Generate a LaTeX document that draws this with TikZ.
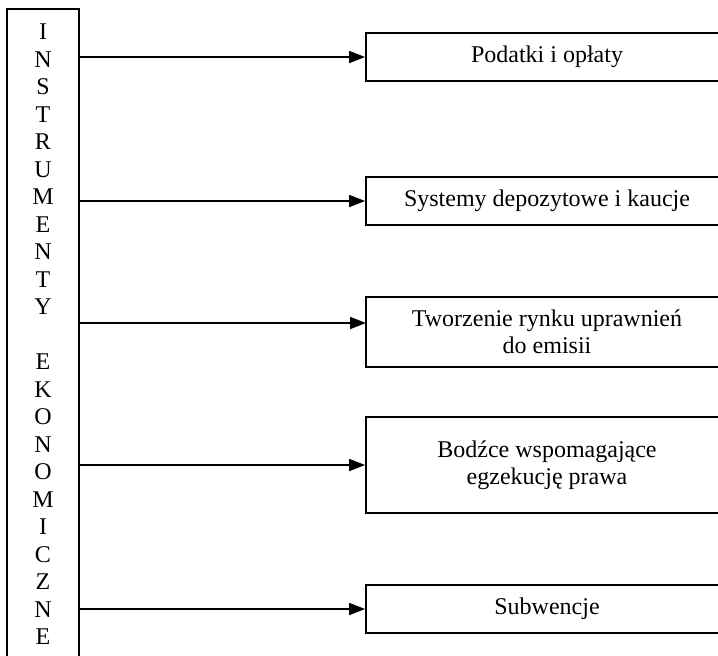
\documentclass[tikz,border=0pt]{standalone}
\usepackage{fontspec}
\setmainfont{Liberation Serif}
\usetikzlibrary{arrows.meta}
\tikzstyle{arrow} = [-{Triangle[length=8pt,width=6pt]}]
\tikzstyle{box} = [draw, rectangle, minimum width=181pt, inner sep=0pt, align=center]

\begin{document}
\begin{tikzpicture}[x=0.5pt,y=-0.5pt,line width=0.9pt]
        \fontsize{12pt}{13.75pt}\selectfont
        \useasboundingbox (0,0) rectangle (718,655);
        \node[draw, minimum width=36pt, minimum height=345.5pt, inner sep=0pt] at (43,354.5) (instr) {};
        \node[align=center, inner sep=0pt] at (43,334.5) (name) {I\\N\\S\\T\\R\\U\\M\\E\\N\\T\\Y\\[13.75pt]E\\K\\O\\N\\O\\M\\I\\C\\Z\\N\\E};

        \node[box, minimum height=24pt] at (547,57) (tax) {Podatki i opłaty};
        \node[box, minimum height=24pt] at (547,201) (deposit) {Systemy depozytowe i kaucje};
        \node[box, minimum height=35pt] at (547,332) (market) {Tworzenie rynku uprawnień\\do emisii};
        \node[box, minimum height=48pt] at (547,465) (law) {Bodźce wspomagające\\egzekucję prawa};
        \node[box, minimum height=24pt] at (547,609) (subsidy) {Subwencje};
        \coordinate (m) at (366,323);

        \draw[arrow] (instr.east |- tax.west) -- (tax.west);
        \draw[arrow] (instr.east |- deposit.west) -- (deposit.west);
        \draw[arrow] (instr.east |- m) -- (m);
        \draw[arrow] (instr.east |- law.west) -- (law.west);
        \draw[arrow] (instr.east |- subsidy.west) -- (subsidy.west);

      \end{tikzpicture}
\end{document}
